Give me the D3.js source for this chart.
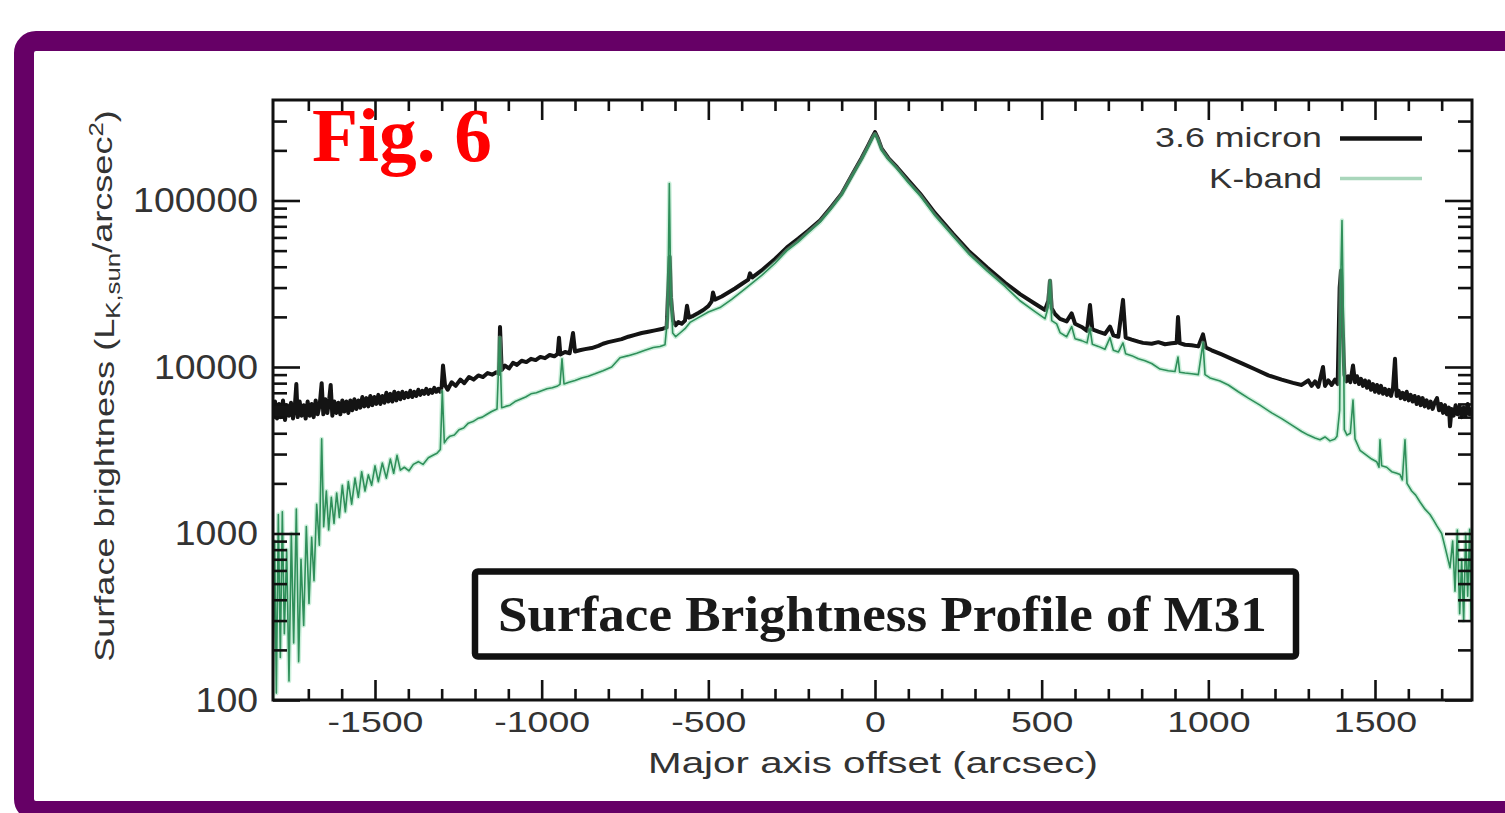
<!DOCTYPE html>
<meta charset="utf-8">
<script src="https://d3js.org/d3.v7.min.js"></script>
<style>
  body { margin: 0; background: #fff; overflow: hidden; }
  text { font-family: "Liberation Sans", Arial, Helvetica, sans-serif; }
</style>
<div id="chart"></div>
<script>

// --- data (offset in arcsec, surface brightness in L_K,sun/arcsec^2) ---
var micronOffset = [-1806,-1800,-1794,-1788,-1782,-1776,-1770,-1764,-1758,-1752,-1746,-1740,-1736,-1732,-1726,-1720,-1714,-1708,-1702,-1696,
  -1690,-1684,-1678,-1672,-1666,-1660,-1655,-1649,-1643,-1637,-1633,-1628,-1622,-1616,-1610,-1604,-1598,-1592,-1586,-1580,
  -1574,-1568,-1562,-1556,-1550,-1544,-1538,-1532,-1526,-1520,-1514,-1508,-1502,-1496,-1490,-1484,-1478,-1472,-1466,-1460,
  -1454,-1448,-1442,-1436,-1430,-1424,-1418,-1412,-1406,-1400,-1394,-1388,-1382,-1376,-1370,-1364,-1358,-1352,-1346,-1340,
  -1334,-1328,-1322,-1316,-1310,-1304,-1300,-1296,-1290,-1282,-1270,-1258,-1244,-1232,-1218,-1204,-1190,-1176,-1162,-1148,
  -1136,-1128,-1125,-1120,-1110,-1098,-1086,-1074,-1060,-1046,-1032,-1018,-1004,-990,-976,-962,-952,-948,-944,-930,
  -916,-906,-900,-886,-870,-850,-830,-816,-800,-780,-760,-740,-720,-700,-680,-660,-640,-625,-620,-616,
  -612,-606,-598,-590,-580,-570,-564,-558,-545,-530,-515,-500,-490,-486,-480,-460,-440,-420,-400,-380,
  -375,-368,-340,-300,-264,-230,-200,-165,-130,-100,-66,-40,-20,-8,0,8,20,40,66,100,
  135,180,234,280,336,390,435,480,510,520,525,530,540,555,575,590,600,620,636,645,
  652,670,690,705,715,730,744,752,770,790,804,830,850,870,890,905,909,914,930,950,
  970,984,992,1010,1040,1070,1104,1140,1180,1220,1254,1280,1300,1310,1320,1330,1344,1350,1360,1370,
  1380,1388,1394,1398,1402,1408,1414,1420,1426,1434,1440,1446,1452,1458,1464,1470,1476,1482,1488,1494,
  1500,1506,1512,1518,1524,1530,1536,1542,1548,1554,1560,1565,1571,1577,1583,1589,1595,1601,1607,1613,
  1619,1625,1631,1637,1643,1649,1655,1661,1667,1673,1679,1686,1692,1698,1704,1710,1716,1722,1725,1730,
  1736,1742,1748,1754,1760,1766,1772,1778,1784,1791];
var micronFlux = [5000,6200,4900,6000,5000,6300,4800,5900,5100,6100,4900,6000,7900,5000,6200,5100,5900,4900,6200,5100,
  6000,5000,6300,5200,5900,8000,5200,6400,5300,6500,7800,5100,6200,5300,6100,5200,6300,5400,6200,5300,
  6300,5500,6400,5600,6300,5700,6600,5800,6500,5800,6700,5900,6600,6000,6800,6000,6700,6100,7000,6200,
  6900,6200,7100,6300,7000,6400,7100,6500,7000,6600,7200,6600,7100,6700,7300,6800,7200,6900,7400,6900,
  7300,7000,7500,7100,7400,7100,7600,10200,7800,7300,8100,7700,8400,8000,8700,8400,8900,8700,9200,9000,
  9300,9100,17400,9600,10200,9800,10600,10300,10900,10700,11200,11000,11500,11300,11800,11600,12000,15000,11900,12300,
  12100,16000,12400,12600,12800,13000,13400,13800,14100,14400,14700,15200,15600,16000,16300,16600,16900,17300,30000,46000,
  26000,19000,17800,18600,18200,19000,23300,19800,20300,21100,22000,23200,24800,28000,25400,26500,28000,29600,31500,33500,
  36500,34500,38000,44500,52300,59000,66000,75900,92000,110000,145600,180000,215000,240000,257700,238000,205000,180000,158500,132000,
  110200,84000,63100,50000,39600,32000,27400,24000,22000,25000,33000,22500,20800,19450,18800,21000,18200,17400,16500,23600,
  16800,16300,15800,17500,15500,15200,25300,15000,14600,14200,13960,13800,14100,13700,13900,14000,19950,13900,13600,13500,
  13300,15700,13100,12600,11900,11200,10450,9700,8900,8400,8030,7800,8300,7700,8200,7600,10000,7700,8300,7800,
  8400,7900,30000,38000,20000,9000,8200,8800,8100,10200,8100,8800,7900,8500,7700,8300,7500,8200,7300,7900,
  7100,7800,7000,7700,6900,7400,6800,7300,6700,7500,11200,6700,7200,6500,7000,6400,7100,6300,6800,6200,
  6700,6000,6600,5900,6500,5800,6300,5700,6200,5600,6100,6500,5500,6000,5300,5900,5200,5700,4400,5600,
  5100,5900,5200,5800,5000,5700,5100,6000,5200,5700];

var kbandOffset = [-1806,-1801,-1796,-1790,-1784,-1778,-1772,-1765,-1758,-1751,-1744,-1736,-1729,-1722,-1714,-1706,-1698,-1690,-1683,-1675,
  -1667,-1660,-1654,-1646,-1639,-1631,-1623,-1615,-1607,-1598,-1589,-1580,-1570,-1560,-1550,-1540,-1530,-1520,-1510,-1500,
  -1490,-1478,-1466,-1454,-1444,-1434,-1424,-1412,-1398,-1385,-1370,-1356,-1340,-1326,-1314,-1304,-1298,-1292,-1284,-1275,
  -1262,-1248,-1234,-1220,-1206,-1192,-1178,-1164,-1150,-1134,-1126,-1120,-1108,-1095,-1080,-1064,-1048,-1032,-1016,-1000,
  -984,-968,-952,-945,-939,-933,-918,-900,-880,-860,-840,-816,-790,-765,-740,-715,-690,-665,-645,-630,
  -622,-617,-613,-607,-598,-585,-570,-555,-530,-500,-465,-430,-390,-340,-300,-264,-230,-200,-165,-130,
  -100,-66,-40,-20,-8,0,8,20,40,66,100,135,180,234,280,336,390,435,480,510,
  520,525,530,545,555,575,590,600,620,636,645,652,670,690,705,715,730,744,752,770,
  790,810,830,855,880,900,909,914,930,950,970,984,990,1005,1035,1060,1090,1120,1155,1190,
  1220,1254,1280,1300,1320,1335,1350,1365,1380,1386,1394,1398,1401,1404,1408,1416,1426,1434,1440,1455,
  1470,1490,1505,1512,1515,1520,1535,1550,1565,1575,1582,1590,1596,1610,1622,1635,1650,1665,1676,1686,
  1700,1712,1725,1733,1740,1747,1754,1760,1766,1772,1778,1784,1788,1791];
var kbandFlux = [100,900,110,1300,180,1350,250,800,130,1000,220,1400,170,700,280,1100,380,950,520,1500,
  850,3700,1100,1800,1050,1650,1150,1750,1250,1950,1350,2050,1500,2150,1650,2350,1800,2250,1950,2550,
  2050,2650,2150,2800,2300,2950,2400,2500,2380,2600,2700,2600,2850,2950,3030,3200,7160,3500,3700,3840,
  3900,4200,4300,4600,4700,4900,5000,5200,5400,5600,15000,5700,5800,5900,6200,6400,6600,6900,7000,7200,
  7400,7500,7700,7860,11200,7900,8100,8300,8600,8800,9100,9500,10000,11370,11700,12100,12600,13100,13270,13600,
  20000,126500,30000,16000,15200,16000,17000,18530,19800,21400,22750,25500,29500,35500,42000,50000,56500,64000,74000,90000,
  108000,143000,176000,210000,235000,250000,232000,200000,176000,155000,128000,107000,81000,61000,48000,37800,30500,25000,21500,19500,
  23000,33000,19000,18150,16100,15200,17500,14800,14400,13960,17000,13700,13300,12800,15000,12600,12300,13960,12000,11700,
  11200,10900,10500,9720,9500,9400,11480,9300,9200,9100,9000,13960,9000,8600,8250,7800,7100,6500,5900,5300,
  4900,4430,4100,3900,3750,3660,3800,3600,3700,3840,5500,40000,75900,30000,4200,3900,4000,6330,3700,3160,
  3000,2800,2700,2500,3660,2550,2500,2350,2300,2260,2100,3660,2000,1800,1700,1545,1400,1300,1200,1107,
  1000,800,624,900,450,1050,330,700,300,1000,420,1058,305,500];

var xMajor = [-1500, -1000, -500, 0, 500, 1000, 1500];
var xMinor = [-1700,-1600,-1400,-1300,-1200,-1100,-900,-800,-700,-600,-400,-300,-200,-100,
              100,200,300,400,600,700,800,900,1100,1200,1300,1400,1600,1700];
var yMajor = [100, 1000, 10000, 100000];
var yMinor = [200,300,400,500,600,700,800,900,2000,3000,4000,5000,6000,7000,8000,9000,
              20000,30000,40000,50000,60000,70000,80000,90000,200000,300000];
var seriesNames = ["3.6 micron", "K-band"];

// --- layout ---
var W = 1505, H = 813;
var plot = {left: 273, right: 1472, top: 100, bottom: 700};

var svg = d3.select("#chart").append("svg")
    .attr("width", W).attr("height", H);

// purple slide frame
svg.append("rect")
    .attr("x", 24).attr("y", 41)
    .attr("width", 1530).attr("height", 770)
    .attr("rx", 12)
    .attr("fill", "#fff")
    .attr("stroke", "#660066")
    .attr("stroke-width", 20);

var x = d3.scaleLinear().domain([-1806, 1791]).range([plot.left, plot.right]);
var y = d3.scaleLog().domain([100, Math.pow(10, 2 + 600 / 166.5)]).range([plot.bottom, plot.top]);

svg.append("clipPath").attr("id", "clip")
  .append("rect")
    .attr("x", plot.left).attr("y", plot.top)
    .attr("width", plot.right - plot.left).attr("height", plot.bottom - plot.top);

var line = d3.line()
    .x(function(d) { return x(d[0]); })
    .y(function(d) { return y(d[1]); });

var micron = d3.zip(micronOffset, micronFlux);
var kband = d3.zip(kbandOffset, kbandFlux);

var lines = svg.append("g").attr("clip-path", "url(#clip)");

lines.append("path")
    .datum(micron)
    .attr("d", line)
    .attr("fill", "none")
    .attr("stroke", "#141414")
    .attr("stroke-width", 4)
    .attr("stroke-linejoin", "round");

// soft glow round the green line, like the original raster
lines.append("path")
    .datum(kband)
    .attr("d", line)
    .attr("fill", "none")
    .attr("stroke", "#8fdcb0")
    .attr("stroke-opacity", 0.45)
    .attr("stroke-width", 4.5)
    .attr("stroke-linejoin", "round");

lines.append("path")
    .datum(kband)
    .attr("d", line)
    .attr("fill", "none")
    .attr("stroke", "#2f8f5a")
    .attr("stroke-width", 1.6)
    .attr("stroke-linejoin", "round");

// --- axes (ticks inward on all four sides) ---
function styleAxis(g) {
  g.select(".domain").remove();
  g.selectAll(".tick line").attr("stroke", "#111").attr("stroke-width", 2.6);
  g.selectAll("text").attr("fill", "#333").style("font-family", "'Liberation Sans', Arial, sans-serif");
}

svg.append("g")
    .attr("transform", "translate(0," + plot.bottom + ")")
    .call(d3.axisBottom(x).tickValues(xMajor).tickSize(-20).tickPadding(11)
      .tickFormat(function(d) { return String(d); }))
    .call(styleAxis)
    .call(function(g) {
      g.selectAll("text").attr("font-size", 30).attr("transform", "scale(1.25,1)");
    });

svg.append("g")
    .attr("transform", "translate(0," + plot.bottom + ")")
    .call(d3.axisBottom(x).tickValues(xMinor).tickSize(-11).tickFormat(""))
    .call(styleAxis);

svg.append("g")
    .attr("transform", "translate(0," + plot.top + ")")
    .call(d3.axisTop(x).tickValues(xMajor).tickSize(-20).tickFormat(""))
    .call(styleAxis);

svg.append("g")
    .attr("transform", "translate(0," + plot.top + ")")
    .call(d3.axisTop(x).tickValues(xMinor).tickSize(-11).tickFormat(""))
    .call(styleAxis);

svg.append("g")
    .attr("transform", "translate(" + plot.left + ",0)")
    .call(d3.axisLeft(y).tickValues(yMajor).tickSize(-27).tickPadding(14)
      .tickFormat(function(d) { return String(d); }))
    .call(styleAxis)
    .call(function(g) {
      g.selectAll("text").attr("font-size", 35).attr("transform", "scale(1.07,1)");
    });

svg.append("g")
    .attr("transform", "translate(" + plot.left + ",0)")
    .call(d3.axisLeft(y).tickValues(yMinor).tickSize(-14).tickFormat(""))
    .call(styleAxis);

svg.append("g")
    .attr("transform", "translate(" + plot.right + ",0)")
    .call(d3.axisRight(y).tickValues(yMajor).tickSize(-27).tickFormat(""))
    .call(styleAxis);

svg.append("g")
    .attr("transform", "translate(" + plot.right + ",0)")
    .call(d3.axisRight(y).tickValues(yMinor).tickSize(-14).tickFormat(""))
    .call(styleAxis);

svg.append("rect")
    .attr("x", plot.left).attr("y", plot.top)
    .attr("width", plot.right - plot.left).attr("height", plot.bottom - plot.top)
    .attr("fill", "none")
    .attr("stroke", "#111")
    .attr("stroke-width", 3);

// stretch a text horizontally so it spans the given width
function stretch(t, w) {
  return w / t.node().getComputedTextLength();
}

// axis titles
var xl = svg.append("text")
    .attr("text-anchor", "middle")
    .attr("font-size", 30)
    .attr("fill", "#333")
    .text("Major axis offset (arcsec)");
xl.attr("transform", "translate(873,773) scale(" + stretch(xl, 450) + ",1)");

var yl = svg.append("text")
    .attr("text-anchor", "middle")
    .attr("font-size", 28)
    .attr("fill", "#333");
yl.append("tspan").text("Surface brightness (L");
yl.append("tspan").attr("dy", "0.3em").attr("font-size", 20).text("K,sun");
yl.append("tspan").attr("dy", "-0.3em").text("/arcsec");
yl.append("tspan").attr("dy", "-0.45em").attr("font-size", 20).text("2");
yl.append("tspan").attr("dy", "0.45em").text(")");
yl.attr("transform", "translate(114,386) rotate(-90) scale(" + stretch(yl, 552) + ",1)");

// legend
var legend = svg.append("g");
var legendRows = [
  {name: seriesNames[0], y: 147, ly: 138.5, color: "#141414", width: 4.5, w: 167},
  {name: seriesNames[1], y: 188, ly: 178.5, color: "#a9d6bb", width: 3.5, w: 113}
];
legendRows.forEach(function(r) {
  var t = legend.append("text")
      .attr("text-anchor", "end")
      .attr("font-size", 28)
      .attr("fill", "#333")
      .text(r.name);
  t.attr("transform", "translate(1322," + r.y + ") scale(" + stretch(t, r.w) + ",1)");
  legend.append("line")
      .attr("x1", 1340).attr("x2", 1422)
      .attr("y1", r.ly).attr("y2", r.ly)
      .attr("stroke", r.color)
      .attr("stroke-width", r.width);
});

// "Fig. 6"
var fig = svg.append("text")
    .style("font-family", "'Liberation Serif', 'Times New Roman', serif")
    .attr("font-weight", "bold")
    .attr("font-size", 77)
    .attr("fill", "#ff0000")
    .text("Fig. 6");
fig.attr("transform", "translate(312,161) scale(" + stretch(fig, 180) + ",1)");

// boxed caption
svg.append("rect")
    .attr("x", 475).attr("y", 571.5)
    .attr("width", 821).attr("height", 85)
    .attr("rx", 3)
    .attr("fill", "#fff")
    .attr("stroke", "#111")
    .attr("stroke-width", 6.5);

var cap = svg.append("text")
    .style("font-family", "'Liberation Serif', 'Times New Roman', serif")
    .attr("font-weight", "bold")
    .attr("font-size", 50)
    .attr("fill", "#1a1a1a")
    .text("Surface Brightness Profile of M31");
cap.attr("transform", "translate(498,631) scale(" + stretch(cap, 769) + ",1)");

</script>
